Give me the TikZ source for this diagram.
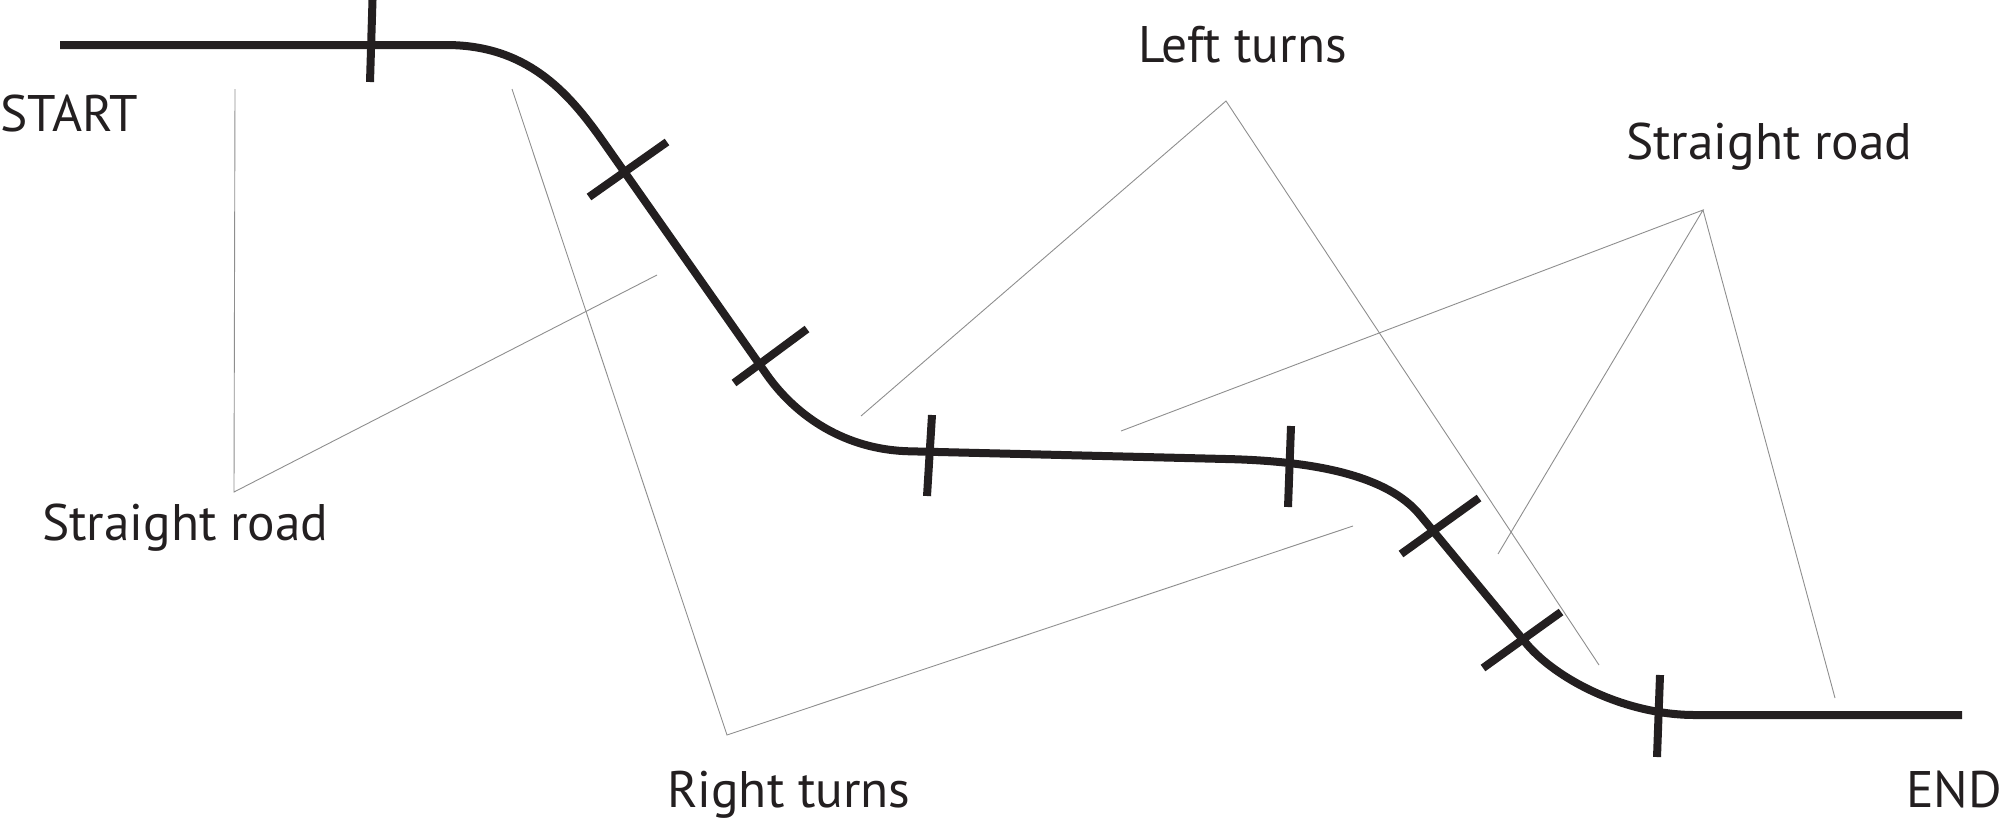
\documentclass[tikz,border=0pt]{standalone}
\usepackage{fontspec}
\setmainfont{PT Sans}
\definecolor{ink}{HTML}{231F20}
\definecolor{guide}{HTML}{8E8E8E}
\tikzset{
  road/.style={draw=ink, line width=4pt, line join=round},
  tickmark/.style={draw=ink, line width=4pt},
  guideline/.style={draw=guide, line width=0.45pt, line join=miter},
  lbl/.style={anchor=base west, inner sep=0pt, outer sep=0pt, text=ink,
              font=\fontsize{25.7}{30}\selectfont}
}
\begin{document}
\begin{tikzpicture}[x=0.5pt, y=-0.5pt]
\useasboundingbox (0,0) rectangle (2000,820);
% labels
\node[lbl] (start) at (0,131) {START};
\node[lbl] (srleft) at (42,540) {Straight road};
\node[lbl] (rturns) at (667,807) {Right turns};
\node[lbl] (lturns) at (1138,62) {Left turns};
\node[lbl] (srright) at (1626,159) {Straight road};
\node[lbl] (finish) at (1906,807) {END};
% guide brackets
\coordinate (a1) at (235,89);
\coordinate (a2) at (234,492);
\coordinate (a3) at (657,275);
\draw[guideline] (a1) -- (a2) -- (a3);
\coordinate (b1) at (512,89);
\coordinate (b2) at (727,735);
\coordinate (b3) at (1353,526);
\draw[guideline] (b1) -- (b2) -- (b3);
\coordinate (c1) at (861,416);
\coordinate (c2) at (1226,101);
\coordinate (c3) at (1599,665);
\draw[guideline] (c1) -- (c2) -- (c3);
\coordinate (d1) at (1121,431);
\coordinate (d2) at (1703,210);
\coordinate (d3) at (1498,554);
\coordinate (d4) at (1835,698);
\draw[guideline] (d1) -- (d2) -- (d3);
\draw[guideline] (d2) -- (d4);
% road
\draw[road] (60,45) -- (446,45)
  .. controls (526,45) and (567.5,91) .. (602,140)
  -- (767,375)
  .. controls (796,416) and (845,450) .. (910,451.3)
  -- (1226,459)
  .. controls (1316,461) and (1388,476) .. (1420,515)
  -- (1525,642)
  .. controls (1555,679) and (1625,715) .. (1695,715)
  -- (1962,715);
% tick marks
\draw[tickmark] (372.5,0) -- (370,82);
\draw[tickmark] (667,142) -- (589,197);
\draw[tickmark] (807,329) -- (734,383);
\draw[tickmark] (932,415) -- (927,496);
\draw[tickmark] (1291,426) -- (1288,507);
\draw[tickmark] (1479,498) -- (1401,554);
\draw[tickmark] (1561,612) -- (1483,668);
\draw[tickmark] (1660,675) -- (1657,757);
\end{tikzpicture}
\end{document}
